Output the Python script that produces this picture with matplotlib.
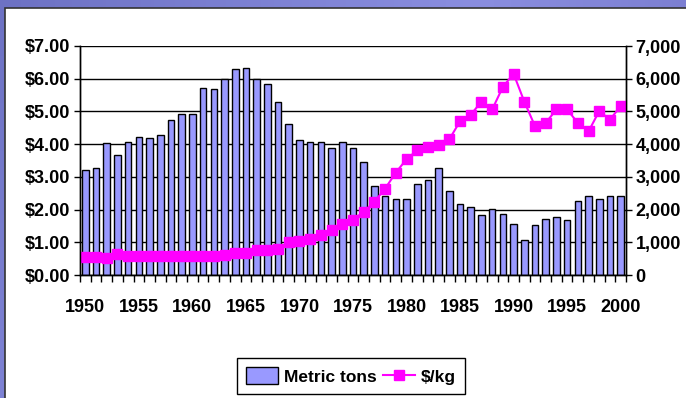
import numpy as np
import matplotlib
matplotlib.use("Agg")
import matplotlib.pyplot as plt
from matplotlib.patches import Rectangle
from matplotlib.ticker import FuncFormatter, FixedLocator, NullFormatter

plt.rcParams['font.family'] = ['Liberation Sans', 'DejaVu Sans']
plt.rcParams['font.weight'] = 'bold'

# data
years = list(range(1950, 2001))
metric_tons = [3210, 3280, 4020, 3670, 4070, 4220, 4180, 4280, 4730, 4920,
               4920, 5730, 5680, 5980, 6290, 6330, 5980, 5840, 5290, 4620,
               4130, 4070, 4070, 3880, 4070, 3880, 3460, 2720, 2420, 2320,
               2320, 2770, 2910, 3280, 2560, 2170, 2070, 1820, 2010, 1870,
               1570, 1070, 1520, 1720, 1770, 1670, 2270, 2420, 2320, 2420,
               2420]
price_per_kg = [0.56, 0.56, 0.52, 0.63, 0.58, 0.58, 0.58, 0.58, 0.58, 0.58,
                0.58, 0.58, 0.58, 0.61, 0.68, 0.68, 0.76, 0.76, 0.80, 1.00,
                1.05, 1.09, 1.23, 1.37, 1.55, 1.69, 1.93, 2.24, 2.64, 3.13,
                3.54, 3.81, 3.92, 3.96, 4.15, 4.70, 4.90, 5.30, 5.06, 5.75,
                6.15, 5.30, 4.55, 4.65, 5.06, 5.06, 4.65, 4.39, 5.01, 4.75,
                5.16]
year_labels = [str(y) for y in range(1950, 2001, 5)]

W, H = 686, 398
fig = plt.figure(figsize=(W / 100, H / 100), dpi=100)

# slide background: blue gradient with a white panel
bg = fig.add_axes([0, 0, 1, 1], zorder=-10)
gx = np.linspace(0, 1, 200)
grad = np.outer(np.ones(50), gx) + np.outer(np.linspace(0, 0.4, 50), np.ones(200))
bg.imshow(grad, cmap=matplotlib.colors.LinearSegmentedColormap.from_list(
    'slide', ['#6d72c4', '#8a8ee0', '#6a6cc0']), aspect='auto',
    extent=[0, 1, 0, 1])
bg.add_patch(Rectangle((5 / W, -0.01), 1, (H - 8) / H + 0.01,
                       facecolor='white', edgecolor='#333333', lw=1.2,
                       transform=bg.transAxes))
bg.set_xlim(0, 1)
bg.set_ylim(0, 1)
bg.axis('off')

x = np.arange(len(years))
ax = fig.add_axes([80 / W, (H - 275) / H, 546 / W, 229 / H])
bars = ax.bar(x, metric_tons, width=0.62, color='#9999ff', edgecolor='black',
              linewidth=1, label='Metric tons')
ax.set_ylim(0, 7000)
ax.set_xlim(-0.5, len(years) - 0.5)
ax.set_yticks(range(0, 7001, 1000))
ax.yaxis.set_major_formatter(FuncFormatter(lambda v, p: f'{int(v):,}'))
ax.yaxis.grid(True, color='black', lw=1)
ax.set_axisbelow(True)

ax2 = ax.twinx()
line, = ax2.plot(x, price_per_kg, color='#ff00ff', lw=1.5, marker='s',
                 markersize=6.5, label='$/kg')
ax2.set_ylim(0, 7)
ax2.set_yticks(range(0, 8))
ax2.yaxis.set_major_formatter(FuncFormatter(lambda v, p: f'${v:.2f}'))

# tons on the right, prices on the left
ax.yaxis.tick_right()
ax2.yaxis.tick_left()

for a in (ax, ax2):
    a.tick_params(axis='y', labelsize=13, length=4, width=1, pad=3)
    for s in a.spines.values():
        s.set_color('black')
        s.set_linewidth(1)
    a.spines['top'].set_visible(False)

# category boundary ticks as major ticks, year labels on minor ticks
ax.xaxis.set_major_locator(FixedLocator(np.arange(-0.5, len(years), 1)))
ax.xaxis.set_major_formatter(NullFormatter())
ax.xaxis.set_minor_locator(FixedLocator(list(range(0, len(years), 5))))
ax.xaxis.set_minor_formatter(FuncFormatter(
    lambda v, p: year_labels[int(round(v)) // 5]))
ax.tick_params(axis='x', which='major', bottom=True, length=5, width=1,
               direction='out', color='black')
ax.tick_params(axis='x', which='minor', length=0, labelsize=13, pad=17)

fig.legend(handles=[bars, line], labels=['Metric tons', '$/kg'],
           loc='center', bbox_to_anchor=(351 / W, (H - 376) / H), ncol=2,
           fontsize=12.5, frameon=True, fancybox=False, edgecolor='black',
           framealpha=1, handlelength=1.8, handleheight=1.1,
           columnspacing=0.4, handletextpad=0.35, borderpad=0.55)
fig.legends[0].get_frame().set_linewidth(1)

fig.savefig('out.png', dpi=100)
